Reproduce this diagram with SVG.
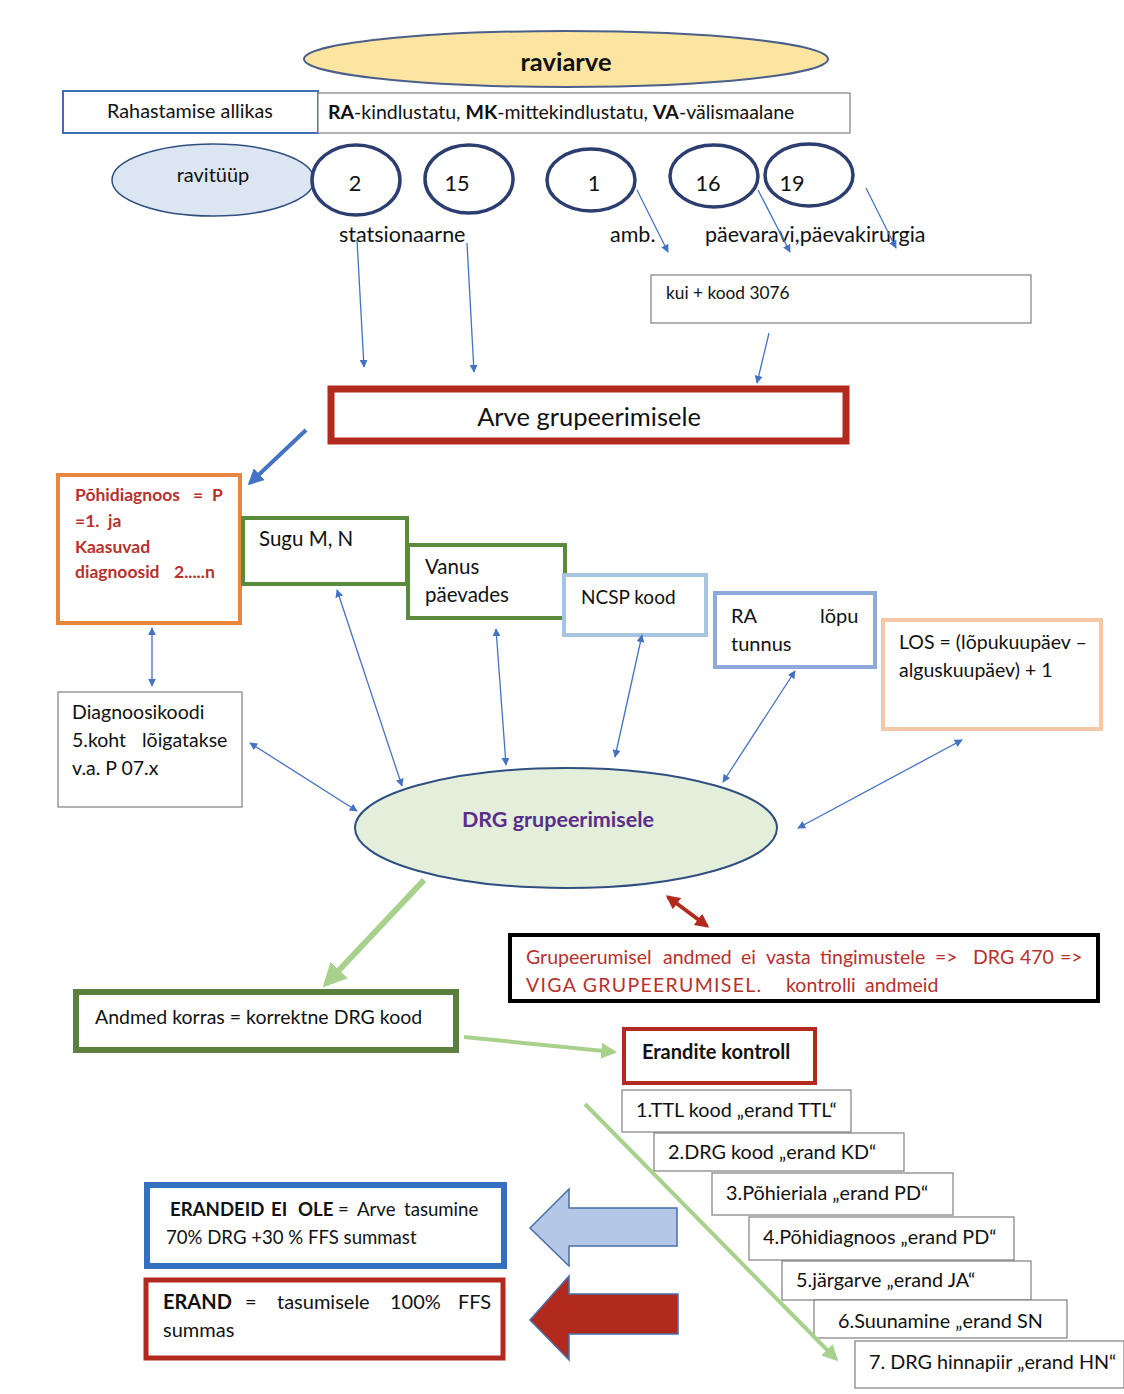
<svg xmlns="http://www.w3.org/2000/svg" width="1124" height="1394" viewBox="0 0 1124 1394">
<defs>
<style>
text{font-family:Lato,"Open Sans","Liberation Sans",sans-serif;fill:#111;font-size:20px}
.b{font-weight:bold}
.red{fill:#b7312c}
.box{fill:#fff}
.thin{stroke:#7f7f7f;stroke-width:1.2;fill:#fff}
.ar{stroke:#4472c4;stroke-width:1.3;fill:none}
.circ{fill:#fff;stroke:#2c3e70;stroke-width:3.5}
.f17{font-size:17.3px}
.f18{font-size:18px}
.f185{font-size:18.6px}
.f19{font-size:19px}
.f195{font-size:19.5px}
.f198{font-size:19.8px}
.f205{font-size:20.5px}
.f21{font-size:21.5px}
.f22{font-size:21.7px}
.f25{font-size:25.5px}
</style>
<marker id="ah" viewBox="0 0 10 10" refX="9" refY="5" markerWidth="8" markerHeight="8" markerUnits="userSpaceOnUse" orient="auto-start-reverse"><path d="M0,0L10,5L0,10z" fill="#4472c4"/></marker>
<marker id="ahb" viewBox="0 0 10 10" refX="8" refY="5" markerWidth="4" markerHeight="4" orient="auto-start-reverse"><path d="M0,0L10,5L0,10z" fill="#4472c4"/></marker>
<marker id="ahr" viewBox="0 0 10 10" refX="8" refY="5" markerWidth="3.5" markerHeight="3.5" orient="auto-start-reverse"><path d="M0,0L10,5L0,10z" fill="#b22a1e"/></marker>
<marker id="ahg" viewBox="0 0 10 10" refX="8" refY="5" markerWidth="4" markerHeight="4" orient="auto-start-reverse"><path d="M0,0L10,5L0,10z" fill="#a9d18e"/></marker>
</defs>

<g id="raviarve"><ellipse cx="566" cy="59" rx="262" ry="28" fill="#fbe5a0" stroke="#4a5f8a" stroke-width="2"/><text x="566" y="71" text-anchor="middle" class="b f25">raviarve</text></g>

<g id="rahastamine"><rect x="63" y="91" width="255" height="42" class="box" stroke="#3d6fb8" stroke-width="2"/><text x="190" y="118" text-anchor="middle" class="f198">Rahastamise allikas</text></g>
<g id="ra-kind"><rect x="318" y="93" width="532" height="40" class="thin"/><text x="328" y="119" class="f195"><tspan class="b">RA</tspan>-kindlustatu, <tspan class="b">MK</tspan>-mittekindlustatu, <tspan class="b">VA</tspan>-välismaalane</text></g>

<g id="ravituup"><ellipse cx="213" cy="180" rx="101" ry="36" fill="#dce6f2" stroke="#2f4f80" stroke-width="1.5"/><text x="213" y="182" text-anchor="middle">ravitüüp</text></g>
<g id="c2"><ellipse cx="356" cy="180" rx="44" ry="35" class="circ"/><text x="355" y="191" text-anchor="middle" class="f22">2</text></g>
<g id="c15"><ellipse cx="469" cy="179" rx="44" ry="34" class="circ"/><text x="457" y="191" text-anchor="middle" class="f22">15</text></g>
<g id="c1"><ellipse cx="591" cy="180" rx="44" ry="31" class="circ"/><text x="594" y="191" text-anchor="middle" class="f22">1</text></g>
<g id="c16"><ellipse cx="714" cy="176" rx="44" ry="31" class="circ"/><text x="708" y="191" text-anchor="middle" class="f22">16</text></g>
<g id="c19"><ellipse cx="809" cy="175" rx="44" ry="31" class="circ"/><text x="792" y="191" text-anchor="middle" class="f22">19</text></g>

<g id="labels">
<text x="339" y="242" class="f21">statsionaarne</text>
<text x="610" y="242" class="f21">amb.</text>
<text x="705" y="242" class="f21">päevaravi,päevakirurgia</text>
</g>

<g id="kood3076"><rect x="651" y="275" width="380" height="48" class="thin"/><text x="666" y="299" class="f17">kui + kood 3076</text></g>

<g id="arve"><rect x="331" y="389" width="515" height="52" class="box" stroke="#b22a1e" stroke-width="7"/><text x="589" y="426" text-anchor="middle" class="f25">Arve grupeerimisele</text></g>

<g id="pohidiagnoos"><rect x="58" y="475" width="182" height="148" class="box" stroke="#e8853f" stroke-width="4"/>
<text class="b red" style="font-size:17.5px"><tspan x="75" y="501">Põhidiagnoos</tspan><tspan x="193" y="501">=</tspan><tspan x="212" y="501">P</tspan><tspan x="75" y="527">=1.</tspan><tspan x="108" y="527">ja</tspan><tspan x="75" y="553">Kaasuvad</tspan><tspan x="75" y="578">diagnoosid</tspan><tspan x="174" y="578">2.....n</tspan></text></g>

<g id="sugu"><rect x="243" y="518" width="164" height="66" class="box" stroke="#5a8a3c" stroke-width="4"/><text x="259" y="546" class="f205">Sugu  M, N</text></g>
<g id="vanus"><rect x="408" y="545" width="157" height="73" class="box" stroke="#5a8a3c" stroke-width="4"/><text x="425" y="574" class="f205">Vanus</text><text x="425" y="602" class="f205">päevades</text></g>
<g id="ncsp"><rect x="564" y="575" width="142" height="60" class="box" stroke="#a7c3e2" stroke-width="4"/><text x="581" y="604" class="f19">NCSP kood</text></g>
<g id="ralopu"><rect x="715" y="593" width="160" height="74" class="box" stroke="#8ea9db" stroke-width="4"/><text x="731" y="623">RA</text><text x="820" y="623">lõpu</text><text x="731" y="651">tunnus</text></g>
<g id="los"><rect x="883" y="620" width="218" height="109" class="box" stroke="#f4c7a6" stroke-width="4"/><text x="899" y="649" class="f195">LOS = (lõpukuupäev –</text><text x="899" y="677" class="f195">alguskuupäev) + 1</text></g>
<g id="diagkood"><rect x="58" y="692" width="184" height="115" class="thin"/><text x="72" y="719" class="f195">Diagnoosikoodi</text><text x="72" y="747" class="f195">5.koht</text><text x="142" y="747" class="f195">lõigatakse</text><text x="72" y="775" class="f195">v.a. P 07.x</text></g>

<g id="drg"><ellipse cx="566" cy="828" rx="211" ry="60" fill="#e3efda" stroke="#2f4f80" stroke-width="2"/><text x="558" y="827" text-anchor="middle" class="b f21" style="fill:#5b2d8a">DRG grupeerimisele</text></g>

<g id="viga"><rect x="510" y="935" width="588" height="66" class="box" stroke="#000" stroke-width="4"/><text class="red f195" y="964"><tspan x="526">Grupeerumisel</tspan><tspan x="663">andmed</tspan><tspan x="741">ei</tspan><tspan x="766">vasta</tspan><tspan x="820">tingimustele</tspan><tspan x="935">=&gt;</tspan><tspan x="973">DRG</tspan><tspan x="1020">470</tspan><tspan x="1060">=&gt;</tspan></text><text class="red f195" y="992"><tspan x="526" style="letter-spacing:1.3px">VIGA GRUPEERUMISEL.</tspan><tspan x="786">kontrolli</tspan><tspan x="865">andmeid</tspan></text></g>

<g id="korras"><rect x="76" y="992" width="380" height="58" class="box" stroke="#5a7f3e" stroke-width="6"/><text x="95" y="1024" class="f195">Andmed korras = korrektne DRG kood</text></g>

<g id="erandite"><rect x="624" y="1029" width="191" height="54" class="box" stroke="#b22a1e" stroke-width="4"/><text x="642" y="1059" class="b">Erandite kontroll</text></g>

<g id="s1"><rect x="622" y="1090" width="229" height="42" class="thin"/><text x="636" y="1117" class="f198">1.TTL kood „erand  TTL“</text></g>
<g id="s2"><rect x="654" y="1133" width="250" height="38" class="thin"/><text x="668" y="1159" class="f198">2.DRG kood „erand KD“</text></g>
<g id="s3"><rect x="712" y="1173" width="241" height="42" class="thin"/><text x="726" y="1200" class="f198">3.Põhieriala „erand PD“</text></g>
<g id="s4"><rect x="749" y="1217" width="265" height="43" class="thin"/><text x="763" y="1244" class="f198">4.Põhidiagnoos  „erand PD“</text></g>
<g id="s5"><rect x="782" y="1261" width="249" height="39" class="thin"/><text x="796" y="1287" class="f198">5.järgarve „erand JA“</text></g>
<g id="s6"><rect x="814" y="1300" width="253" height="38" class="thin"/><text x="838" y="1328" class="f198">6.Suunamine „erand SN</text></g>
<g id="s7"><rect x="855" y="1341" width="269" height="47" class="thin"/><text x="869" y="1369" class="f198">7. DRG hinnapiir „erand HN“</text></g>

<g id="eieole"><rect x="147" y="1185" width="357" height="81" class="box" stroke="#3570c0" stroke-width="6"/><text y="1216" class="f185"><tspan x="170" class="b">ERANDEID</tspan><tspan x="271" class="b">EI</tspan><tspan x="298" class="b">OLE</tspan><tspan x="338">=</tspan><tspan x="357">Arve</tspan><tspan x="404">tasumine</tspan></text><text x="166" y="1244" class="f185">70% DRG +30 % FFS summast</text></g>
<g id="erand"><rect x="146" y="1280" width="357" height="78" class="box" stroke="#b22a1e" stroke-width="5"/><text y="1309"><tspan x="163" class="b">ERAND</tspan><tspan x="245">=</tspan><tspan x="277">tasumisele</tspan><tspan x="390">100%</tspan><tspan x="458">FFS</tspan></text><text x="163" y="1337">summas</text></g>

<g id="bigarrows">
<path d="M530,1228 L569,1189 L569,1208 L677,1208 L677,1246 L569,1246 L569,1266 Z" fill="#b4c7e7" stroke="#4a6ea8" stroke-width="1.5"/>
<path d="M530,1320 L569,1276 L569,1294 L678,1294 L678,1334 L569,1334 L569,1360 Z" fill="#b22a1e" stroke="#4a6ea8" stroke-width="1.5"/>
</g>

<g id="connectors">
<line x1="637" y1="190" x2="668" y2="252" class="ar" marker-end="url(#ah)"/>
<line x1="758" y1="190" x2="790" y2="252" class="ar" marker-end="url(#ah)"/>
<line x1="866" y1="188" x2="896" y2="248" class="ar" marker-end="url(#ah)"/>
<line x1="357" y1="240" x2="364" y2="367" class="ar" marker-end="url(#ah)"/>
<line x1="467" y1="243" x2="474" y2="372" class="ar" marker-end="url(#ah)"/>
<line x1="769" y1="333" x2="757" y2="383" class="ar" marker-end="url(#ah)"/>
<line x1="306" y1="430" x2="250" y2="483" stroke="#4472c4" stroke-width="4" marker-end="url(#ahb)"/>
<line x1="152" y1="628" x2="152" y2="686" class="ar" marker-start="url(#ah)" marker-end="url(#ah)"/>
<line x1="250" y1="743" x2="357" y2="811" class="ar" marker-start="url(#ah)" marker-end="url(#ah)"/>
<line x1="337" y1="590" x2="402" y2="786" class="ar" marker-start="url(#ah)" marker-end="url(#ah)"/>
<line x1="496" y1="629" x2="506" y2="765" class="ar" marker-start="url(#ah)" marker-end="url(#ah)"/>
<line x1="642" y1="635" x2="615" y2="757" class="ar" marker-start="url(#ah)" marker-end="url(#ah)"/>
<line x1="795" y1="671" x2="723" y2="782" class="ar" marker-start="url(#ah)" marker-end="url(#ah)"/>
<line x1="962" y1="740" x2="798" y2="828" class="ar" marker-start="url(#ah)" marker-end="url(#ah)"/>
<line x1="668" y1="897" x2="707" y2="926" stroke="#b22a1e" stroke-width="4" marker-start="url(#ahr)" marker-end="url(#ahr)"/>
<line x1="424" y1="880" x2="326" y2="984" stroke="#a9d18e" stroke-width="6" marker-end="url(#ahg)"/>
<line x1="464" y1="1037" x2="614" y2="1052" stroke="#a9d18e" stroke-width="4" marker-end="url(#ahg)"/>
<line x1="585" y1="1104" x2="836" y2="1359" stroke="#a9d18e" stroke-width="4" marker-end="url(#ahg)"/>
</g>
</svg>
